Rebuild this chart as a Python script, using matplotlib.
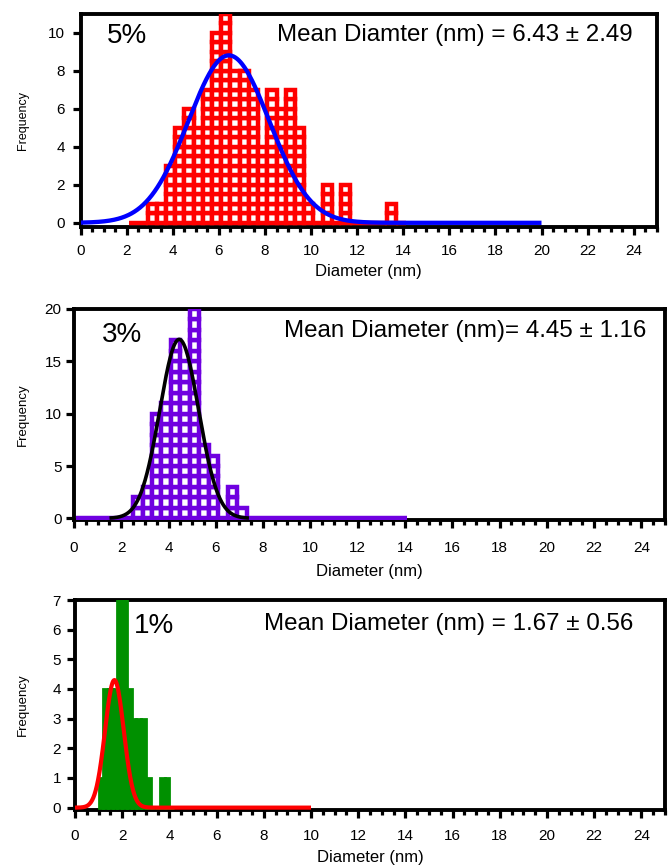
import numpy as np
import matplotlib
matplotlib.use("Agg")
import matplotlib.pyplot as plt
from matplotlib.ticker import MultipleLocator

plt.rcParams["font.family"] = ["Liberation Sans", "DejaVu Sans"]

# ---- 5 % sample: histogram (0.4 nm bins) + Gaussian fit ----
bin_start_5 = 2.1
bin_width_5 = 0.4
counts_5 = [0, 0, 1, 1, 3, 5, 6, 5, 7, 10, 11, 8, 8, 7, 4, 7, 6, 7, 5, 1,
            0, 2, 0, 2, 0, 0, 0, 0, 1, 0]
fit_5 = {"amp": 8.8, "mean": 6.43, "width": 2.49, "xmin": 0.0, "xmax": 20.0}
label_5 = "5%"
text_5 = "Mean Diamter (nm) = 6.43 \u00b1 2.49"

# ---- 3 % sample ----
bin_start_3 = 0.1
bin_width_3 = 0.4
counts_3 = [0, 0, 0, 0, 0, 0, 2, 3, 10, 11, 17, 15, 20, 7, 6, 0, 3, 1,
            0, 0, 0, 0, 0, 0, 0, 0, 0, 0, 0, 0, 0, 0, 0, 0, 0]
fit_3 = {"amp": 17.1, "mean": 4.45, "width": 1.16, "xmin": 1.5, "xmax": 7.4}
label_3 = "3%"
text_3 = "Mean Diameter (nm)= 4.45 \u00b1 1.16"

# ---- 1 % sample (0.2 nm bins) ----
bin_start_1 = 1.0
bin_width_1 = 0.2
counts_1 = [1, 4, 4, 4, 7, 7, 4, 3, 3, 3, 1, 0, 0, 1, 1, 0]
fit_1 = {"amp": 4.3, "mean": 1.67, "width": 0.56, "xmin": 0.0, "xmax": 10.0}
label_1 = "1%"
text_1 = "Mean Diameter (nm) = 1.67 \u00b1 0.56"

x_ticks = np.arange(0, 25, 2)

W, H = 668, 867
fig = plt.figure(figsize=(W / 100, H / 100), dpi=100)


def axes_px(left, right, top, bottom):
    return fig.add_axes([left / W, 1 - bottom / H, (right - left) / W, (bottom - top) / H])


def style_axes(ax, ymax, ybottom, ystep, xpad, ypad, xlabelpad, ylab_x, ylab_fs):
    ax.set_xlim(0, 25)
    for s in ax.spines.values():
        s.set_linewidth(2.8)
    ax.set_xticks(x_ticks)
    ax.xaxis.set_minor_locator(MultipleLocator(0.5))
    ax.yaxis.set_major_locator(MultipleLocator(ystep))
    ax.set_ylim(ybottom, ymax)
    ax.tick_params(axis="x", which="major", length=6, width=2.3, pad=xpad,
                   labelsize=11, direction="out")
    ax.tick_params(axis="x", which="minor", length=3.5, width=2.3, direction="out")
    ax.tick_params(axis="y", which="major", length=6, width=2.3, pad=ypad,
                   labelsize=11, direction="out")
    ax.set_xlabel("Diameter (nm)", fontsize=12, labelpad=xlabelpad)
    ax.set_ylabel("Frequency", fontsize=ylab_fs)
    ax.yaxis.set_label_coords(ylab_x, 0.5)


def brick_hist(ax, start, width, counts, brick, color, lw):
    lefts = start + width * np.arange(len(counts))
    for left, c in zip(lefts, counts):
        n = int(round(c / brick))
        if n == 0:
            ax.bar(left, 0, width=width, align="edge", facecolor="white",
                   edgecolor=color, linewidth=lw, zorder=3)
        else:
            ax.bar(np.full(n, left), brick, width=width, bottom=brick * np.arange(n),
                   align="edge", facecolor="white", edgecolor=color,
                   linewidth=lw, zorder=3)


def gauss_fit(ax, fit, color, lw):
    x = np.linspace(fit["xmin"], fit["xmax"], 800)
    y = fit["amp"] * np.exp(-((x - fit["mean"]) / fit["width"]) ** 2)
    ax.plot(x, y, color=color, lw=lw, zorder=4, solid_capstyle="butt")


# Panel: 5 %
ax1 = axes_px(80.7, 656.7, 13.5, 227)
style_axes(ax1, 11, -0.22, 2, xpad=6, ypad=5.5, xlabelpad=4.5,
           ylab_x=(29 - 80.7) / 576, ylab_fs=9)
brick_hist(ax1, bin_start_5, bin_width_5, counts_5, 0.5, "#ff0000", 3.2)
gauss_fit(ax1, fit_5, "#0000ff", 3.1)
ax1.text(0.0457, 0.862, label_5, transform=ax1.transAxes, fontsize=20, va="baseline")
ax1.text(0.959, 0.871, text_5, transform=ax1.transAxes, fontsize=17.4,
         ha="right", va="baseline")

# Panel: 3 %
ax2 = axes_px(74, 665, 309, 519.7)
style_axes(ax2, 20, -0.13, 5, xpad=9.5, ypad=3, xlabelpad=6,
           ylab_x=(29 - 74) / 591, ylab_fs=9.5)
brick_hist(ax2, bin_start_3, bin_width_3, counts_3, 1.0, "#6f00e0", 3.2)
gauss_fit(ax2, fit_3, "black", 2.6)
ax2.text(0.0469, 0.845, label_3, transform=ax2.transAxes, fontsize=20, va="baseline")
ax2.text(0.969, 0.8685, text_3, transform=ax2.transAxes, fontsize=17.4,
         ha="right", va="baseline")

# Panel: 1 %
ax3 = axes_px(75, 665, 600, 810)
style_axes(ax3, 7, -0.08, 1, xpad=8, ypad=4, xlabelpad=4.5,
           ylab_x=(29 - 75) / 590, ylab_fs=9.5)
lefts_1 = bin_start_1 + bin_width_1 * np.arange(len(counts_1))
ax3.bar(lefts_1, counts_1, width=bin_width_1, align="edge", color="#009000",
        edgecolor="#009000", linewidth=2, zorder=3)
gauss_fit(ax3, fit_1, "#ff0000", 3.0)
ax3.text(0.1, 0.841, label_1, transform=ax3.transAxes, fontsize=20, va="baseline")
ax3.text(0.9463, 0.857, text_1, transform=ax3.transAxes, fontsize=17.4,
         ha="right", va="baseline")

fig.savefig("out.png", dpi=100)
